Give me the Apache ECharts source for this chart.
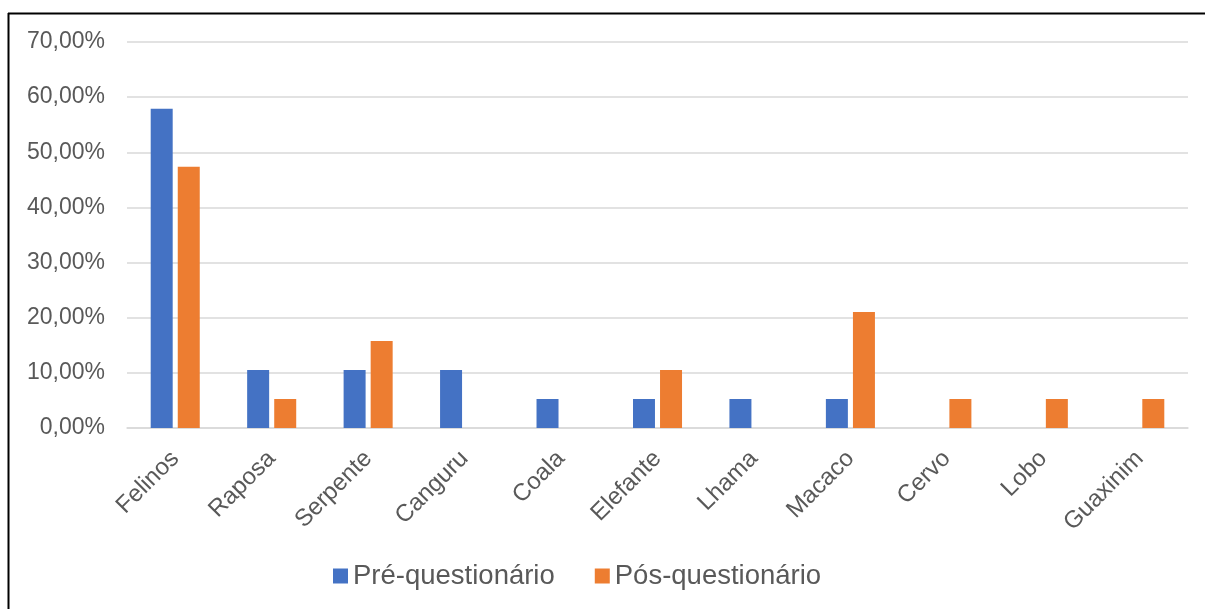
<!DOCTYPE html>
<html>
<head>
<meta charset="utf-8">
<script src="https://cdn.jsdelivr.net/npm/echarts@6/dist/echarts.min.js"></script>
<style>
html,body{margin:0;padding:0;background:#fff;}
#chart{width:1205px;height:609px;}
</style>
</head>
<body>
<div id="chart"></div>
<script>
const categories = ['Felinos','Raposa','Serpente','Canguru','Coala','Elefante','Lhama','Macaco','Cervo','Lobo','Guaxinim'];
const preValues = [57.89,10.53,10.53,10.53,5.26,5.26,5.26,5.26,0,0,0];
const posValues = [47.37,5.26,15.79,0,0,10.53,0,21.05,5.26,5.26,5.26];
const seriesNames = ['Pré-questionário','Pós-questionário'];

const chart = echarts.init(document.getElementById('chart'));
const font = '"Liberation Sans", Arial, sans-serif';
chart.setOption({
  animation:false,
  color:['#4472C4','#ED7D31'],
  graphic:[
    {type:'line', shape:{x1:8, y1:13.5, x2:1205, y2:13.5}, style:{stroke:'#000', lineWidth:2}},
    {type:'line', shape:{x1:8.5, y1:13, x2:8.5, y2:609}, style:{stroke:'#000', lineWidth:2}}
  ],
  grid:{left:127, right:17, top:42, bottom:181, containLabel:false},
  legend:{
    data:seriesNames,
    bottom:14,
    left:328,
    icon:'rect',
    itemWidth:15,
    itemHeight:15,
    itemGap:40,
    textStyle:{fontFamily:font, fontSize:27.5, color:'#595959'}
  },
  xAxis:{
    type:'category',
    data:categories,
    axisLine:{lineStyle:{color:'#d9d9d9', width:1.5}},
    axisTick:{show:false},
    axisLabel:{rotate:45, margin:27, interval:0, fontFamily:font, fontSize:24, color:'#595959'}
  },
  yAxis:{
    type:'value',
    min:0, max:70, interval:10,
    axisLine:{show:false},
    axisTick:{show:false},
    splitLine:{lineStyle:{color:'#d9d9d9', width:1.5}},
    axisLabel:{margin:22, fontFamily:font, fontSize:23, color:'#595959',
      formatter:v=>v.toFixed(2).replace('.',',')+'%'}
  },
  series:[
    {name:seriesNames[0], type:'bar', data:preValues, barWidth:22, barGap:'23%'},
    {name:seriesNames[1], type:'bar', data:posValues, barWidth:22, barGap:'23%'}
  ]
});
</script>
</body>
</html>
